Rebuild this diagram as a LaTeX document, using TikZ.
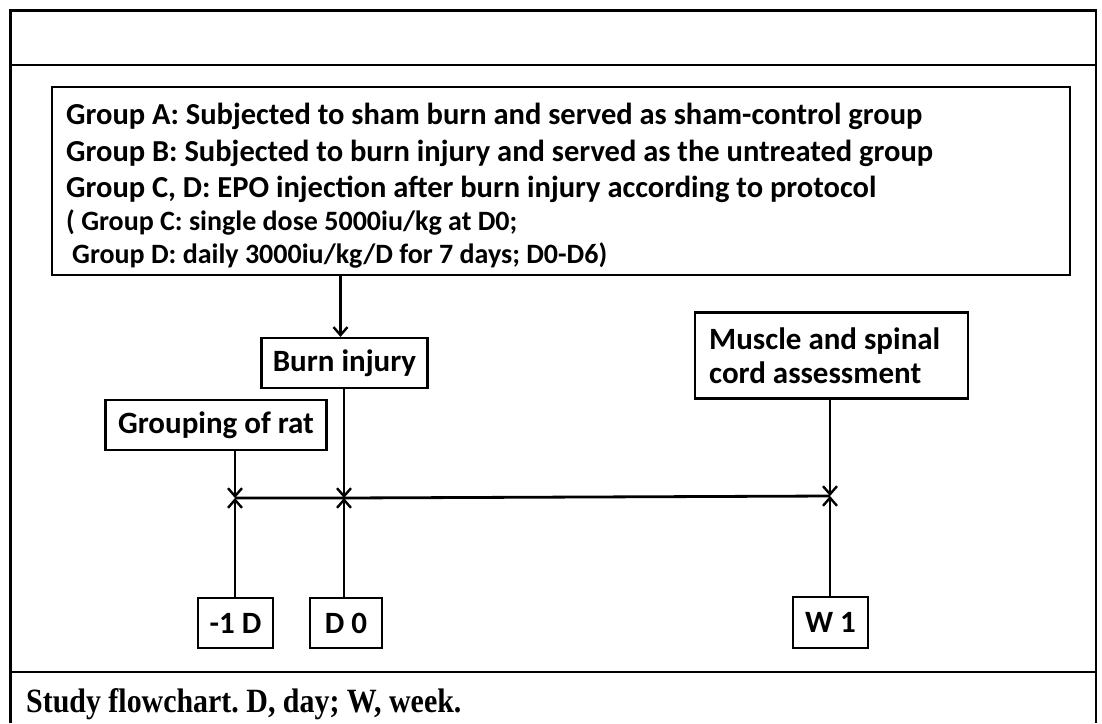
\documentclass[tikz,border=0pt]{standalone}
\usetikzlibrary{arrows.meta}
\usepackage{fontspec}
\setmainfont{Carlito}
\newfontfamily\capfont[FakeStretch=0.88]{Liberation Serif}
\frenchspacing
\begin{document}
\begin{tikzpicture}[x=1pt,y=-1pt,
  frame/.style={line width=2.6pt},
  bx/.style={draw,line width=2.2pt,inner sep=0pt},
  conn/.style={line width=2.8pt},
  arr/.style={conn,-{Straight Barb[length=8pt,width=14pt,line width=2.4pt]}},
  lbl/.style={font=\fontsize{31}{35}\selectfont\bfseries},
  big/.style={anchor=base west,inner sep=0pt,font=\fontsize{30.5}{35}\selectfont\bfseries},
  small/.style={anchor=base west,inner sep=0pt,font=\fontsize{28}{32}\selectfont\bfseries}]
\useasboundingbox (0,0) rectangle (1102,723);
% outer frame
\draw[frame] (10.5,723) -- (10.5,10.5) -- (1096,10.5) -- (1096,723);
\draw[frame] (10.5,65) -- (1096,65);
\draw[frame] (10.5,672) -- (1096,672);
% group box
\node[bx,minimum width=1018pt,minimum height=188pt] (grp) at (561,181) {};
\node[big] (l1) at (66,124) {Group A: Subjected to sham burn and served as sham-control group};
\node[big] (l2) at (66,161) {Group B: Subjected to burn injury and served as the untreated group};
\node[big] (l3) at (66,197) {Group C, D: EPO injection after burn injury according to protocol};
\node[small] (l4) at (66,230) {( Group C: single dose 5000iu/kg at D0;};
\node[small] (l5) at (66,263) {\hspace*{6pt}Group D: daily 3000iu/kg/D for 7 days; D0-D6)};
% boxes
\node[bx,lbl,minimum width=166pt,minimum height=50pt] (burn) at (344.5,363) {Burn injury};
\node[bx,lbl,minimum width=221pt,minimum height=50pt] (grpr) at (216,425) {Grouping of rat};
\node[bx,minimum width=273pt,minimum height=86pt] (musc) at (831.5,355.5) {};
\node[anchor=base west,inner sep=0pt,lbl] (mt1) at (709,349) {Muscle and spinal};
\node[anchor=base west,inner sep=0pt,lbl] (mt2) at (709,383) {cord assessment};
\node[bx,lbl,minimum width=75pt,minimum height=50pt] (m1) at (235.5,623) {-1 D};
\node[bx,lbl,minimum width=72pt,minimum height=50pt] (d0) at (346,623) {D 0};
\node[bx,lbl,minimum width=75pt,minimum height=51pt] (w1) at (830.5,622.5) {W 1};
% timeline
\coordinate (t1) at (235,498);
\coordinate (t2) at (344,498);
\coordinate (t3) at (830,496);
\draw[conn] (t1) -- (t2) -- (t3);
\draw[arr] (grp.south -| burn.north) ++(-4,0) coordinate (ga) -- (ga |- burn.north);
\draw[arr] (grpr.south -| t1) -- (t1);
\draw[arr] (burn.south -| t2) -- (t2);
\draw[arr] (musc.south -| t3) -- (t3);
\draw[arr] (m1.north -| t1) -- (t1);
\draw[arr] (d0.north -| t2) -- (t2);
\draw[arr] (w1.north -| t3) -- (t3);
% caption
\node[anchor=base west,inner sep=0pt,font=\capfont\fontsize{34}{37}\selectfont\bfseries] (cap) at (26,712) {Study flowchart. D, day; W, week.};
\end{tikzpicture}
\end{document}
